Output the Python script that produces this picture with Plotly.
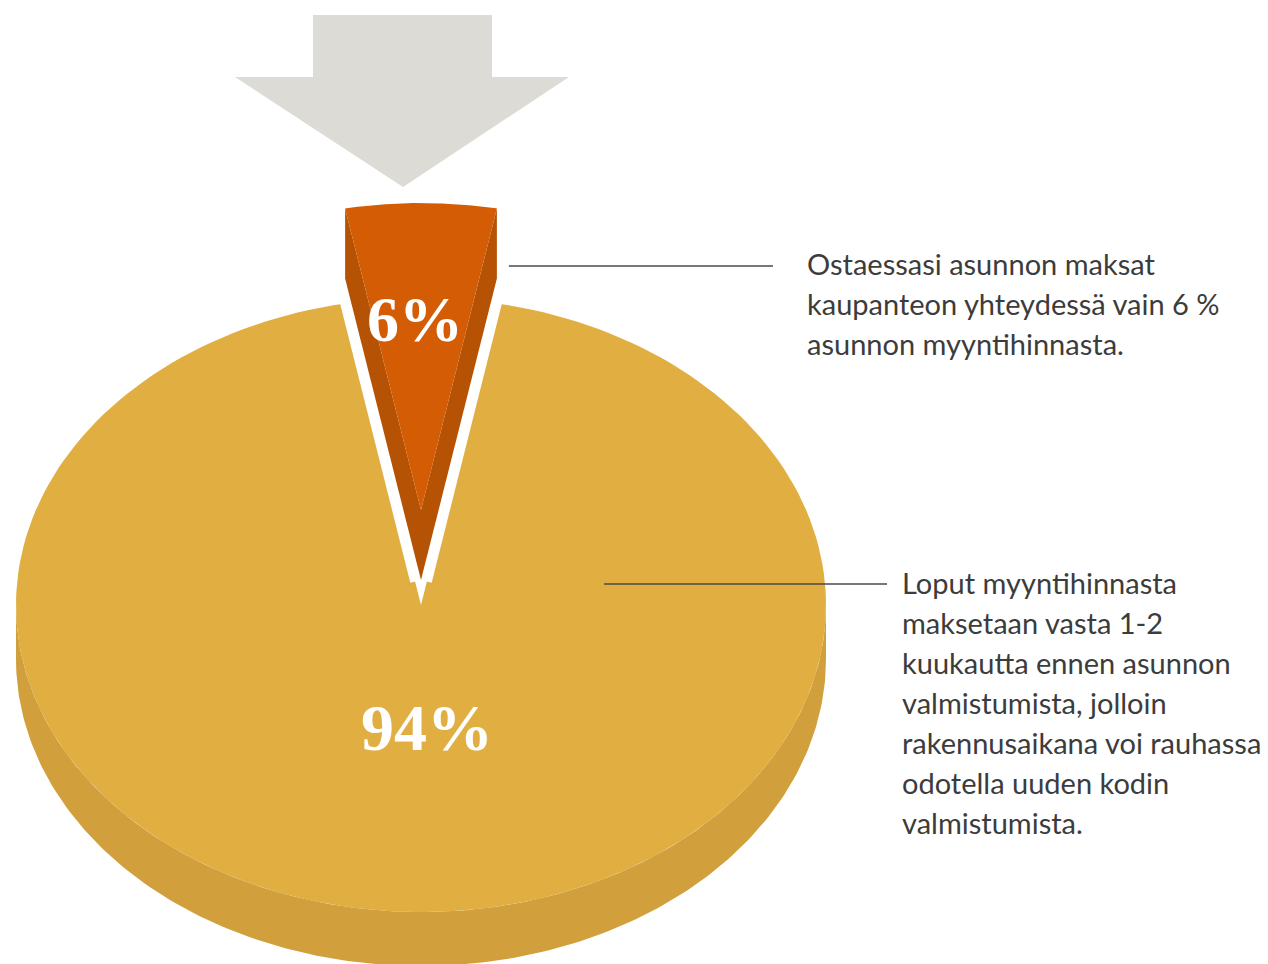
import numpy as np
import plotly.graph_objects as go

# ---------------- data ----------------
labels = ["Kaupanteon yhteydessä", "Loput myyntihinnasta"]
values = [6, 94]
value_text = ["6%", "94%"]
note_first = ["Ostaessasi asunnon maksat",
              "kaupanteon yhteydessä vain 6 %",
              "asunnon myyntihinnasta."]
note_rest = ["Loput myyntihinnasta",
             "maksetaan vasta 1-2",
             "kuukautta ennen asunnon",
             "valmistumista, jolloin",
             "rakennusaikana voi rauhassa",
             "odotella uuden kodin",
             "valmistumista."]

# ---------------- style / geometry ----------------
W, H = 1268, 964
CX, CY = 421, 605          # centre of the pie top face (px)
RX, RY = 405, 307          # ellipse radii (px)
DEPTH = 54                 # thickness of the main pie
EXPLODE_DY = -95           # lift of the exploded slice
SLICE_DEPTH = 70           # thickness of the exploded slice
C_TOP = "#E1AE42"
C_SIDE = "#D1A03C"
C_SLICE_TOP = "#D35C05"
C_SLICE_SIDE = "#B55203"
C_ARROW = "#DCDBD6"
C_TEXT = "#3C3C3C"

total = float(sum(values))
fracs = [v / total for v in values]
# first slice centred on the top (90 deg), counter-clockwise order
starts = [90 - fracs[0] * 180]
for f in fracs[:-1]:
    starts.append(starts[-1] + f * 360)
ends = [s + f * 360 for s, f in zip(starts, fracs)]


def arc(t0, t1, cx, cy, n=200):
    t = np.radians(np.linspace(t0, t1, n))
    return cx + RX * np.cos(t), cy - RY * np.sin(t)


fig = go.Figure()


def poly(xs, ys, color, lw=0, lc=None):
    fig.add_trace(go.Scatter(
        x=list(xs), y=list(ys), mode="lines", fill="toself",
        fillcolor=color, line=dict(width=lw, color=lc or color),
        hoverinfo="skip", showlegend=False))


# ---- main slice (94 %) ----
s1, e1 = starts[1], ends[1]
# visible front side band
fa, fb = max(s1, 180), min(e1, 360)
xt, yt = arc(fa, fb, CX, CY)
poly(np.concatenate([xt, xt[::-1]]),
     np.concatenate([yt, (yt + DEPTH)[::-1]]), C_SIDE)
# top face
xt, yt = arc(s1, e1, CX, CY)
poly(np.concatenate([[CX], xt, [CX]]),
     np.concatenate([[CY], yt, [CY]]), C_TOP)

# ---- exploded slice (6 %) ----
s0, e0 = starts[0], ends[0]
scx, scy = CX, CY + EXPLODE_DY
xa, ya = arc(s0, e0, scx, scy)
xr, yr = xa[0], ya[0]      # right rim point
xl, yl = xa[-1], ya[-1]    # left rim point
D = SLICE_DEPTH
# white silhouette (gap around the slice)
sil_x = [scx, xr, xr] + list(xa) + [xl, xl, scx]
sil_y = [scy + D, yr + D, yr] + list(ya) + [yl, yl + D, scy + D]
poly(sil_x, sil_y, "white", lw=22, lc="white")
# side faces
poly([scx, xl, xl, scx, scx], [scy, yl, yl + D, scy + D, scy], C_SLICE_SIDE)
poly([scx, xr, xr, scx, scx], [scy, yr, yr + D, scy + D, scy], C_SLICE_SIDE)
# top face
poly([scx] + list(xa) + [scx], [scy] + list(ya) + [scy], C_SLICE_TOP)

# ---- value labels ----
fig.add_annotation(x=scx - 6, y=scy - 0.62 * RY, text="<b>" + value_text[0] + "</b>",
                   showarrow=False, xanchor="center", yanchor="middle",
                   font=dict(family="Liberation Serif", size=64, color="white"))
fig.add_annotation(x=CX + 6, y=CY + 0.40 * RY, text="<b>" + value_text[1] + "</b>",
                   showarrow=False, xanchor="center", yanchor="middle",
                   font=dict(family="Liberation Serif", size=66, color="white"))

# ---- arrow (decoration) ----
fig.add_shape(type="path",
              path="M 313 15 L 492 15 L 492 77 L 569 77 L 403 187 L 235 77 L 313 77 Z",
              fillcolor=C_ARROW, line=dict(width=0), layer="above")

# ---- leader lines and notes ----
LINE_STEP = 40
n1_y = 266
fig.add_shape(type="line", x0=xr + 12, x1=773, y0=n1_y, y1=n1_y,
              line=dict(color="#4A4A4A", width=1.5))
for i, t in enumerate(note_first):
    fig.add_annotation(x=805, y=n1_y - 3 + i * LINE_STEP, text=t, showarrow=False,
                       xanchor="left", yanchor="middle",
                       font=dict(family="Lato", size=29, color=C_TEXT))
n2_y = 584
fig.add_shape(type="line", x0=604, x1=887, y0=n2_y, y1=n2_y,
              line=dict(color="#4A4A4A", width=1.5))
for i, t in enumerate(note_rest):
    fig.add_annotation(x=900, y=n2_y - 2 + i * LINE_STEP, text=t, showarrow=False,
                       xanchor="left", yanchor="middle",
                       font=dict(family="Lato", size=29, color=C_TEXT))

fig.update_layout(
    width=W, height=H, margin=dict(l=0, r=0, t=0, b=0),
    paper_bgcolor="white", plot_bgcolor="white", showlegend=False,
    xaxis=dict(range=[0, W], visible=False, fixedrange=True),
    yaxis=dict(range=[H, 0], visible=False, fixedrange=True),
)

fig.write_html("out.html", config={"displayModeBar": False},
               post_script="document.body.style.margin='0';")
